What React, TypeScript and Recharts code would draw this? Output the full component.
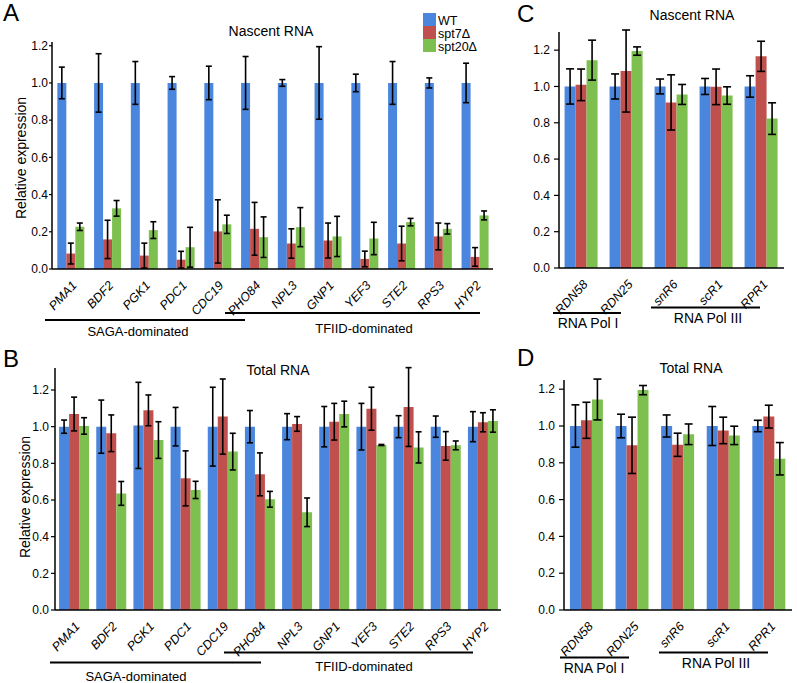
import React from 'react';
import { BarChart, Bar, XAxis, YAxis, ErrorBar } from 'recharts';

const genes = ['PMA1', 'BDF2', 'PGK1', 'PDC1', 'CDC19', 'PHO84', 'NPL3', 'GNP1', 'YEF3', 'STE2', 'RPS3', 'HYP2'];
const nascentWt = [1, 1, 1, 1, 1, 1, 1, 1, 1, 1, 1, 1];
const nascentWtErr = [0.085, 0.157, 0.115, 0.034, 0.09, 0.142, 0.018, 0.195, 0.047, 0.115, 0.027, 0.106];
const nascentSpt7 = [0.083, 0.159, 0.072, 0.05, 0.202, 0.216, 0.137, 0.153, 0.054, 0.137, 0.175, 0.065];
const nascentSpt7Err = [0.056, 0.103, 0.067, 0.045, 0.17, 0.142, 0.079, 0.094, 0.042, 0.093, 0.072, 0.05];
const nascentSpt20 = [0.227, 0.326, 0.209, 0.117, 0.24, 0.171, 0.225, 0.175, 0.164, 0.252, 0.216, 0.288];
const nascentSpt20Err = [0.02, 0.042, 0.045, 0.107, 0.049, 0.109, 0.105, 0.108, 0.087, 0.02, 0.028, 0.024];

const totalWt = [1, 1, 1.007, 1, 1, 1, 1, 1, 1, 1, 1, 1];
const totalWtErr = [0.036, 0.145, 0.235, 0.105, 0.215, 0.088, 0.071, 0.11, 0.127, 0.06, 0.058, 0.082];
const totalSpt7 = [1.069, 0.964, 1.089, 0.718, 1.055, 0.74, 1.015, 1.027, 1.098, 1.107, 0.895, 1.024];
const totalSpt7Err = [0.092, 0.1, 0.084, 0.15, 0.205, 0.117, 0.04, 0.1, 0.117, 0.215, 0.078, 0.052];
const totalSpt20 = [1.004, 0.636, 0.927, 0.655, 0.864, 0.604, 0.533, 1.069, 0.9, 0.887, 0.898, 1.031];
const totalSpt20Err = [0.045, 0.065, 0.1, 0.047, 0.1, 0.043, 0.078, 0.07, 0.003, 0.085, 0.024, 0.061];

const rnas = ['RDN58', 'RDN25', 'snR6', 'scR1', 'RPR1'];
const polNascentWt = [1, 1, 1, 1, 1];
const polNascentWtErr = [0.097, 0.069, 0.041, 0.044, 0.059];
const polNascentSpt7 = [1.009, 1.085, 0.912, 0.998, 1.166];
const polNascentSpt7Err = [0.087, 0.226, 0.152, 0.098, 0.083];
const polNascentSpt20 = [1.145, 1.195, 0.956, 0.95, 0.823];
const polNascentSpt20Err = [0.11, 0.023, 0.055, 0.048, 0.087];

const polTotalWt = [1, 1, 1, 1, 1];
const polTotalWtErr = [0.115, 0.064, 0.06, 0.106, 0.031];
const polTotalSpt7 = [1.031, 0.895, 0.898, 0.976, 1.051];
const polTotalSpt7Err = [0.098, 0.153, 0.063, 0.072, 0.062];
const polTotalSpt20 = [1.144, 1.195, 0.955, 0.949, 0.822];
const polTotalSpt20Err = [0.111, 0.025, 0.056, 0.05, 0.088];

const yTicks = [0, 0.2, 0.4, 0.6, 0.8, 1.0, 1.2];

const BLUE = '#4a86de';
const RED = '#c0504d';
const GREEN = '#7ec050';
const FONT = '"Liberation Sans", Arial, sans-serif';

const buildRows = (
  labels: string[],
  wt: number[], wtErr: number[],
  s7: number[], s7Err: number[],
  s20: number[], s20Err: number[]
) =>
  labels.map((name, i) => ({
    name,
    wt: wt[i], wtErr: wtErr[i],
    spt7: s7[i], spt7Err: s7Err[i],
    spt20: s20[i], spt20Err: s20Err[i],
  }));

const GeneTick = (props: any) => {
  const { x, y, payload } = props;
  return (
    <g transform={`translate(${x + 7},${y + 9})`}>
      <text
        textAnchor="end"
        transform="rotate(-47)"
        fontSize={12.5}
        fontStyle="italic"
        fontFamily={FONT}
        fill="#000"
      >
        {payload.value}
      </text>
    </g>
  );
};

interface PanelProps {
  data: ReturnType<typeof buildRows>;
  left: number;
  top: number;
  width: number;
  height: number;
  marginTop: number;
  marginRight: number;
  yWidth: number;
  xHeight: number;
  yMax: number;
  gap: string;
  cap: number;
  tickSize: number;
  tickGap: number;
}

const Panel = ({ data, left, top, width, height, marginTop, marginRight, yWidth, xHeight, yMax, gap, cap, tickSize, tickGap }: PanelProps) => (
  <div style={{ position: 'absolute', left, top }}>
    <BarChart
      width={width}
      height={height}
      data={data}
      margin={{ top: marginTop, right: marginRight, left: 0, bottom: 0 }}
      barCategoryGap={gap}
      barGap={0}
    >
      <XAxis
        dataKey="name"
        height={xHeight}
        interval={0}
        tickLine={false}
        tick={<GeneTick />}
        axisLine={{ stroke: '#000', strokeWidth: 1.5 }}
      />
      <YAxis
        width={yWidth}
        domain={[0, yMax]}
        ticks={yTicks}
        allowDataOverflow
        tickFormatter={(v: number) => v.toFixed(1)}
        tickSize={tickSize}
        tickMargin={tickGap}
        tick={{ fill: '#000', fontSize: 12, fontFamily: FONT }}
        tickLine={{ stroke: '#000', strokeWidth: 1.2 }}
        axisLine={{ stroke: '#000', strokeWidth: 1.5 }}
      />
      <Bar dataKey="wt" fill={BLUE} isAnimationActive={false}>
        <ErrorBar dataKey="wtErr" width={cap} stroke="#000" strokeWidth={1.6} isAnimationActive={false} />
      </Bar>
      <Bar dataKey="spt7" fill={RED} isAnimationActive={false}>
        <ErrorBar dataKey="spt7Err" width={cap} stroke="#000" strokeWidth={1.6} isAnimationActive={false} />
      </Bar>
      <Bar dataKey="spt20" fill={GREEN} isAnimationActive={false}>
        <ErrorBar dataKey="spt20Err" width={cap} stroke="#000" strokeWidth={1.6} isAnimationActive={false} />
      </Bar>
    </BarChart>
  </div>
);

const Bracket = ({ x1, x2, y, label, tx, ty, size = 13 }: { x1: number; x2: number; y: number; label: string; tx: number; ty: number; size?: number }) => (
  <g>
    <line x1={x1} x2={x2} y1={y} y2={y} stroke="#000" strokeWidth={2} />
    <text x={tx} y={ty} textAnchor="middle" fontSize={size} fontFamily={FONT} fill="#000">{label}</text>
  </g>
);

const App = () => {
  const nascent = buildRows(genes, nascentWt, nascentWtErr, nascentSpt7, nascentSpt7Err, nascentSpt20, nascentSpt20Err);
  const total = buildRows(genes, totalWt, totalWtErr, totalSpt7, totalSpt7Err, totalSpt20, totalSpt20Err);
  const polNascent = buildRows(rnas, polNascentWt, polNascentWtErr, polNascentSpt7, polNascentSpt7Err, polNascentSpt20, polNascentSpt20Err);
  const polTotal = buildRows(rnas, polTotalWt, polTotalWtErr, polTotalSpt7, polTotalSpt7Err, polTotalSpt20, polTotalSpt20Err);

  return (
    <div style={{ position: 'absolute', left: 0, top: 0, width: 797, height: 683, background: '#fff', fontFamily: FONT }}>
      <Panel data={nascent} left={0} top={0} width={500} height={340} marginTop={42} marginRight={7}
        yWidth={52} xHeight={71} yMax={1.22} gap="14.5%" cap={3} tickSize={3} tickGap={1} />
      <Panel data={total} left={0} top={340} width={510} height={343} marginTop={28} marginRight={9}
        yWidth={55} xHeight={73} yMax={1.32} gap="11%" cap={3} tickSize={4} tickGap={2} />
      <Panel data={polNascent} left={510} top={0} width={287} height={340} marginTop={32} marginRight={13}
        yWidth={49} xHeight={72} yMax={1.3} gap="12.4%" cap={4} tickSize={5} tickGap={4} />
      <Panel data={polTotal} left={510} top={340} width={287} height={343} marginTop={40} marginRight={5}
        yWidth={54} xHeight={73} yMax={1.25} gap="13%" cap={4} tickSize={5} tickGap={4} />

      <svg width={797} height={683} style={{ position: 'absolute', left: 0, top: 0, pointerEvents: 'none' }}>
        <g fontFamily={FONT} fill="#000">
          <text x={3} y={21} fontSize={24}>A</text>
          <text x={3} y={367} fontSize={24}>B</text>
          <text x={517} y={22} fontSize={24}>C</text>
          <text x={517} y={366} fontSize={24}>D</text>

          <text x={271} y={36} fontSize={14} textAnchor="middle">Nascent RNA</text>
          <text x={278} y={375} fontSize={14} textAnchor="middle">Total RNA</text>
          <text x={692} y={20} fontSize={14} textAnchor="middle">Nascent RNA</text>
          <text x={691} y={373} fontSize={14} textAnchor="middle">Total RNA</text>

          <text transform="translate(26,158) rotate(-90)" fontSize={14} textAnchor="middle">Relative expression</text>
          <text transform="translate(30,497) rotate(-90)" fontSize={14} textAnchor="middle">Relative expression</text>

          <rect x={423} y={13} width={13} height={13} fill={BLUE} />
          <rect x={423} y={26} width={13} height={13} fill={RED} />
          <rect x={423} y={39} width={13} height={13} fill={GREEN} />
          <text x={438} y={24.5} fontSize={12.5}>WT</text>
          <text x={438} y={37.5} fontSize={12.5}>spt7Δ</text>
          <text x={438} y={50.5} fontSize={12.5}>spt20Δ</text>
        </g>

        <Bracket x1={45} x2={245} y={320} label="SAGA-dominated" tx={138} ty={336} />
        <Bracket x1={225} x2={480} y={313} label="TFIID-dominated" tx={364} ty={333} />
        <Bracket x1={50} x2={261} y={662.5} label="SAGA-dominated" tx={136} ty={681} />
        <Bracket x1={224} x2={473} y={652.5} label="TFIID-dominated" tx={364} ty={671} />

        <Bracket x1={553} x2={621} y={313} label="RNA Pol I" tx={588} ty={328} size={14} />
        <Bracket x1={651} x2={760} y={307.5} label="RNA Pol III" tx={708} ty={323} size={14} />
        <Bracket x1={560} x2={629} y={657.5} label="RNA Pol I" tx={594} ty={673} size={14} />
        <Bracket x1={659} x2={768} y={652.5} label="RNA Pol III" tx={716} ty={668} size={14} />
      </svg>
    </div>
  );
};

export default App;
